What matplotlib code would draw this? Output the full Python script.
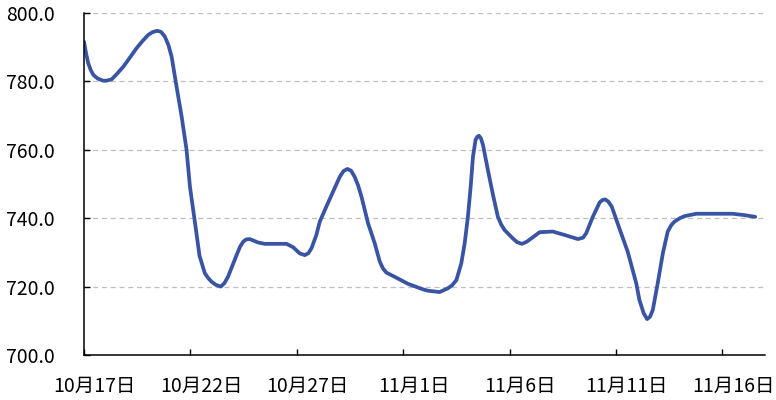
import matplotlib
matplotlib.use("Agg")
import matplotlib.pyplot as plt

plt.rcParams['font.family'] = ['Noto Sans CJK SC', 'DejaVu Sans']

# day offset from 10月17日 and value
days = [0.00, 0.10, 0.20, 0.32, 0.44, 0.65, 0.91, 1.05, 1.30, 1.55, 1.85, 2.15, 2.47, 2.75, 3.02, 3.22, 3.44, 3.62, 3.80,
        3.97, 4.12, 4.35, 4.59, 4.82, 4.98, 5.21, 5.43, 5.68, 5.85, 6.00, 6.20, 6.43, 6.60,
        6.77, 7.17, 7.33, 7.48, 7.62, 7.79, 8.18, 8.50, 9.52, 9.83, 10.14, 10.38,
        10.55, 10.69, 10.92, 11.08, 11.39, 11.70, 12.02, 12.20, 12.38, 12.55, 12.72, 12.88, 13.04, 13.35,
        13.66, 13.90, 14.05, 14.21, 14.68, 15.23, 15.93, 16.16, 16.71, 17.10, 17.30, 17.50,
        17.73, 17.89, 18.04, 18.17, 18.28, 18.40, 18.48, 18.56, 18.65, 18.75, 18.98, 19.22,
        19.45, 19.60, 19.77, 20.15, 20.35, 20.58, 20.80, 21.02, 21.41, 22.03, 22.58, 23.21, 23.45, 23.60,
        23.91, 24.23, 24.36, 24.49, 24.63, 24.80, 25.16, 25.55, 25.95, 26.10, 26.30, 26.46, 26.60, 26.73,
        26.96, 27.20, 27.43, 27.60, 27.75, 28.00, 28.22, 28.77, 30.48, 31.03, 31.54]
values = [791.6, 788.2, 785.3, 783.3, 781.9, 780.8, 780.2, 780.2, 780.6, 782.2, 784.3, 786.9, 789.7, 791.8, 793.6, 794.4, 794.8, 794.5, 793.1,
          790.6, 787.2, 778.5, 769.7, 760.0, 749.2, 739.0, 729.0, 723.9, 722.4, 721.4, 720.5, 720.0, 721.0,
          722.9, 729.2, 731.6, 733.1, 733.8, 733.9, 732.9, 732.5, 732.5, 731.5, 729.7, 729.2,
          729.8, 731.2, 735.1, 739.0, 743.4, 747.7, 752.1, 753.8, 754.4, 753.9, 752.1, 749.6, 746.3, 738.5,
          732.7, 727.3, 725.3, 724.1, 722.6, 720.8, 719.2, 718.8, 718.4, 719.5, 720.4, 721.9,
          726.8, 732.7, 740.4, 749.2, 758.0, 762.9, 763.8, 764.1, 763.4, 761.4, 754.1, 746.8,
          740.4, 738.2, 736.5, 734.1, 733.0, 732.5, 733.1, 734.1, 735.9, 736.1, 735.1, 733.9, 734.3, 735.6,
          740.4, 744.6, 745.3, 745.5, 744.9, 743.4, 737.0, 730.2, 721.0, 716.1, 712.2, 710.5, 711.2, 713.2,
          721.0, 729.7, 736.1, 738.0, 739.0, 740.0, 740.6, 741.3, 741.3, 740.9, 740.4]

tick_days = [0, 5, 10, 15, 20, 25, 30]
tick_labels = ['10月17日', '10月22日', '10月27日', '11月1日', '11月6日', '11月11日', '11月16日']
y_ticks = [700, 720, 740, 760, 780, 800]

fig = plt.figure(figsize=(7.76, 4.0), dpi=100)
ax = fig.add_axes([0.1082, 0.1125, 0.8776, 0.855])

ax.plot(days, values, color='#3a54a4', lw=2.7, solid_capstyle='round',
        solid_joinstyle='round', zorder=3)

ax.set_xlim(0, 32)
ax.set_ylim(700, 800)

ax.set_yticks(y_ticks)
ax.set_yticklabels([f'{v:.1f}' for v in y_ticks])
for v in y_ticks[1:]:
    ax.axhline(v, color='#bfbfbf', lw=0.9, ls=(0, (4, 3)), zorder=1)

# major ticks mark boundaries, labels sit half a day to the right
ax.set_xticks(tick_days)
ax.set_xticklabels([])
ax.set_xticks([d + 0.5 for d in tick_days], minor=True)
ax.set_xticklabels(tick_labels, minor=True)

ax.tick_params(axis='x', which='major', direction='in', length=4.5, width=1, color='black')
ax.tick_params(axis='x', which='minor', length=0, pad=15, labelsize=14)
ax.tick_params(axis='y', direction='in', length=4.5, width=1, pad=21, labelsize=14)

for s in ['top', 'right']:
    ax.spines[s].set_visible(False)
for s in ['left', 'bottom']:
    ax.spines[s].set_linewidth(1.1)
    ax.spines[s].set_zorder(4)

fig.savefig('out.png', dpi=100)
